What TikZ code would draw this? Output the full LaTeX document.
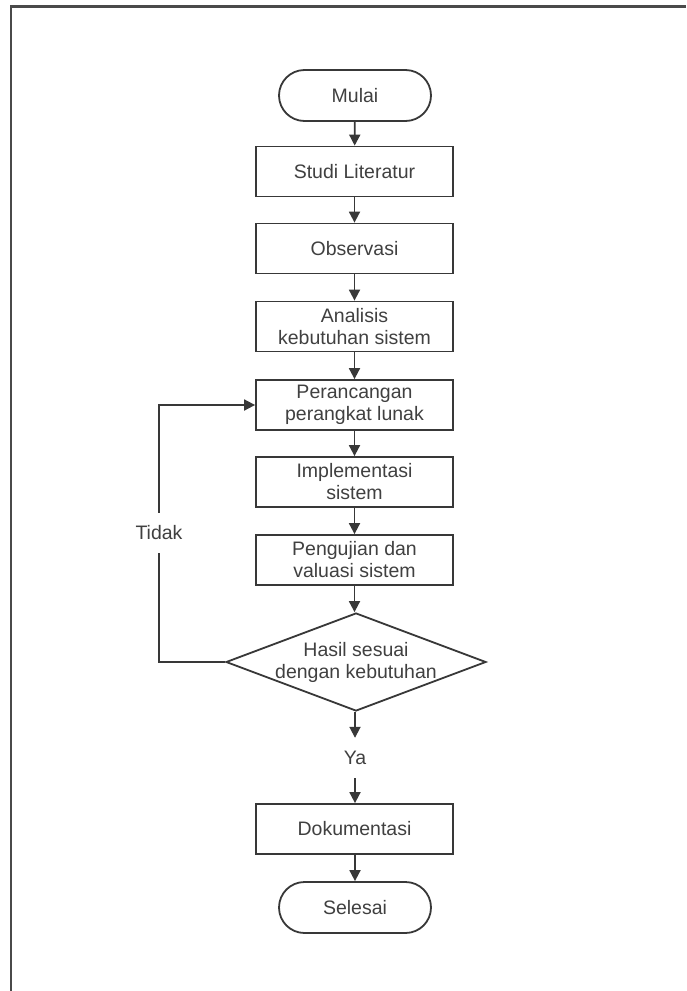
\documentclass[tikz,border=0pt]{standalone}
\usepackage{fontspec}
\setmainfont{Liberation Sans}
\usetikzlibrary{arrows.meta,shapes.geometric,shapes.misc}
\definecolor{linec}{HTML}{383838}
\definecolor{textc}{HTML}{404040}
\definecolor{framec}{HTML}{4A4A4A}
\begin{document}
\begin{tikzpicture}[x=1pt,y=-1pt,
  every node/.style={font=\fontsize{19.5}{22}\selectfont, text=textc},
  procbox/.style={draw=linec, line width=1.8pt, rectangle, minimum width=197pt, minimum height=50pt, inner sep=2pt, align=center},
  termbox/.style={draw=linec, line width=1.8pt, rounded rectangle, minimum width=156pt, minimum height=51pt, inner sep=2pt},
  decbox/.style={draw=linec, line width=1.8pt, diamond, minimum width=260pt, minimum height=98pt, inner sep=0pt},
  lbl/.style={inner sep=0pt, minimum height=40pt},
  flow/.style={draw=linec, line width=1.8pt, -{Triangle[length=11pt,width=11pt]}},
  plain/.style={draw=linec, line width=1.8pt}]
\useasboundingbox (0,0) rectangle (686,991);
\fill[white] (0,0) rectangle (686,991);
\draw[framec, line width=2.6pt] (686,6.5) -- (11,6.5) -- (11,991);

\node[termbox] (mulai) at (355,95.5) {Mulai};
\node[procbox] (studi) at (354.5,171.5) {Studi Literatur};
\node[procbox] (obs) at (354.5,248.5) {Observasi};
\node[procbox] (anal) at (354.5,326.5) {Analisis\\kebutuhan sistem};
\node[procbox] (ranc) at (354.5,405) {Perancangan\\perangkat lunak};
\node[procbox] (impl) at (354.5,482) {Implementasi\\sistem};
\node[procbox] (uji) at (354.5,560) {Pengujian dan\\valuasi sistem};
\node[decbox] (dec) at (356,662) {};
\node[align=center] (dectext) at (dec.center) {Hasil sesuai\\dengan kebutuhan};
\node[lbl] (ya) at (355,758) {Ya};
\node[procbox] (dok) at (354.5,829) {Dokumentasi};
\node[termbox] (sel) at (355,907.5) {Selesai};
\node[lbl] (tidak) at (159,533) {Tidak};

\draw[flow] (mulai) -- (studi);
\draw[flow] (studi) -- (obs);
\draw[flow] (obs) -- (anal);
\draw[flow] (anal) -- (ranc);
\draw[flow] (ranc) -- (impl);
\draw[flow] (impl) -- (uji);
\draw[flow] (uji.south) -- (uji.south |- dec.north);
\draw[flow] (dec.south -| ya) -- (ya.north);
\draw[flow] (ya.south) -- (dok.north -| ya);
\draw[flow] (dok.south -| sel) -- (sel.north);
\draw[plain] (dec.west) -| (tidak.south);
\draw[flow] (tidak.north) |- (ranc.west);
\end{tikzpicture}
\end{document}
